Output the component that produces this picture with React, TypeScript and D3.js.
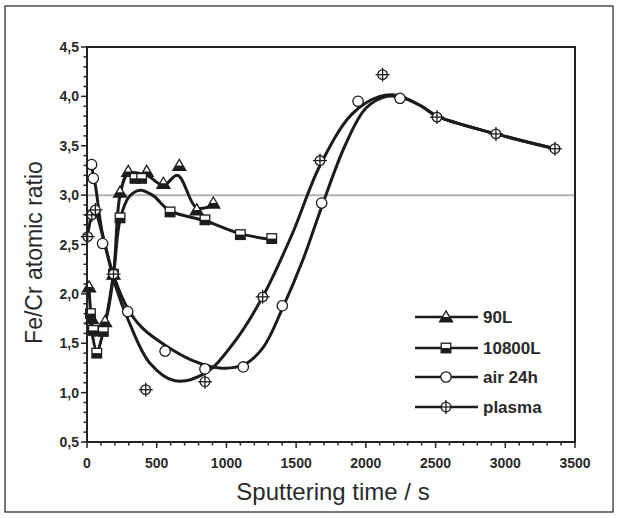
import React from "react";
import * as d3 from "d3";

// ---------- data ----------
const xTicks = [0, 500, 1000, 1500, 2000, 2500, 3000, 3500];
const yTicks = [0.5, 1.0, 1.5, 2.0, 2.5, 3.0, 3.5, 4.0, 4.5];
const yTickLabels = ["0,5", "1,0", "1,5", "2,0", "2,5", "3,0", "3,5", "4,0", "4,5"];

// 90L markers
const l90X = [15, 35, 129, 190, 237, 296, 428, 548, 662, 787, 906];
const l90Y = [2.07, 1.75, 1.72, 2.2, 3.03, 3.24, 3.24, 3.12, 3.3, 2.85, 2.92];
// 90L fitted line
const l90FitX = [15, 60, 129, 190, 237, 296, 428, 548, 650, 787, 906];
const l90FitY = [2.05, 1.58, 1.72, 2.2, 3.0, 3.22, 3.2, 3.1, 3.2, 2.87, 2.9];

// 10800L markers
const l10800X = [25, 45, 70, 117, 190, 237, 344, 392, 596, 846, 1100, 1325];
const l10800Y = [1.8, 1.63, 1.4, 1.62, 2.2, 2.77, 3.17, 3.17, 2.83, 2.75, 2.6, 2.56];
// 10800L fitted line
const l10800FitX = [20, 70, 117, 190, 237, 300, 380, 470, 596, 846, 1100, 1325];
const l10800FitY = [1.75, 1.42, 1.62, 2.2, 2.75, 2.98, 3.05, 3.0, 2.84, 2.74, 2.61, 2.55];

// air 24h markers
const airX = [33, 45, 112, 292, 560, 846, 1121, 1401, 1683, 1944, 2245];
const airY = [3.31, 3.17, 2.51, 1.82, 1.42, 1.24, 1.26, 1.88, 2.92, 3.95, 3.98];
// air 24h fitted line
const airFitX = [30, 60, 112, 200, 292, 400, 560, 750, 950, 1121, 1260, 1401, 1550, 1683, 1850, 2000, 2150, 2250, 2400, 2510, 2933, 3356];
const airFitY = [3.3, 3.1, 2.6, 2.15, 1.85, 1.65, 1.48, 1.33, 1.25, 1.28, 1.45, 1.85, 2.35, 2.88, 3.5, 3.88, 4.0, 3.99, 3.9, 3.8, 3.62, 3.47];

// plasma markers
const plasmaX = [5, 35, 60, 190, 421, 846, 1260, 1671, 2120, 2510, 2933, 3356];
const plasmaY = [2.58, 2.8, 2.85, 2.2, 1.03, 1.11, 1.97, 3.35, 4.22, 3.79, 3.62, 3.47];
// plasma fitted line
const plasmaFitX = [5, 50, 120, 200, 300, 450, 630, 850, 1050, 1260, 1470, 1671, 1900, 2100, 2230, 2400, 2510, 2933, 3356];
const plasmaFitY = [2.6, 2.85, 2.55, 2.1, 1.72, 1.3, 1.12, 1.2, 1.5, 1.97, 2.6, 3.3, 3.82, 4.0, 4.01, 3.9, 3.8, 3.62, 3.47];

const legendNames = ["90L", "10800L", "air 24h", "plasma"];

// ---------- layout ----------
const W = 619;
const H = 518;
const x = d3.scaleLinear().domain([0, 3500]).range([87, 575]);
const y = d3.scaleLinear().domain([0.5, 4.5]).range([442, 47]);

const zip = (xs: number[], ys: number[]) => xs.map((v, i) => [v, ys[i]] as [number, number]);

const line = d3
  .line<[number, number]>()
  .x((d) => x(d[0]))
  .y((d) => y(d[1]))
  .curve(d3.curveCatmullRom.alpha(0.5));

const INK = "#1c1c1c";

function Triangle({ cx, cy }: { cx: number; cy: number }) {
  const s = 6.5;
  const h = 11;
  const top = cy - h * 0.55;
  const bot = cy + h * 0.45;
  const mid = cy;
  const halfAtMid = s * ((mid - top) / (bot - top));
  return (
    <g>
      <path d={`M${cx},${top}L${cx + s},${bot}L${cx - s},${bot}Z`} fill="#fff" stroke={INK} strokeWidth={1.3} />
      <path d={`M${cx - halfAtMid},${mid}L${cx + halfAtMid},${mid}L${cx + s},${bot}L${cx - s},${bot}Z`} fill={INK} />
    </g>
  );
}

function Square({ cx, cy }: { cx: number; cy: number }) {
  const s = 4.8;
  return (
    <g>
      <rect x={cx - s} y={cy - s} width={2 * s} height={2 * s} fill="#fff" stroke={INK} strokeWidth={1.3} />
      <rect x={cx - s} y={cy} width={2 * s} height={s} fill={INK} />
    </g>
  );
}

function Circle({ cx, cy }: { cx: number; cy: number }) {
  return <circle cx={cx} cy={cy} r={5.2} fill="#fff" stroke={INK} strokeWidth={1.3} />;
}

function Plasma({ cx, cy }: { cx: number; cy: number }) {
  return (
    <g stroke={INK} strokeWidth={1.3}>
      <circle cx={cx} cy={cy} r={4.8} fill="#fff" />
      <line x1={cx - 7} x2={cx + 7} y1={cy} y2={cy} />
      <line x1={cx} x2={cx} y1={cy - 7} y2={cy + 7} />
    </g>
  );
}

const markerFor = [Triangle, Square, Circle, Plasma];

export default function App() {
  const series = [
    { fit: zip(l90FitX, l90FitY), pts: zip(l90X, l90Y) },
    { fit: zip(l10800FitX, l10800FitY), pts: zip(l10800X, l10800Y) },
    { fit: zip(airFitX, airFitY), pts: zip(airX, airY) },
    { fit: zip(plasmaFitX, plasmaFitY), pts: zip(plasmaX, plasmaY) },
  ];
  const xMinor = d3.range(0, 3501, 100);
  const yMinor = d3.range(0.5, 4.5001, 0.1);
  const legendY = [317, 348, 377, 407];
  const tickFont = "'Liberation Sans', Arial, sans-serif";

  return (
    <svg width={W} height={H} style={{ position: "absolute", left: 0, top: 0, background: "#fff" }}>
      <rect x={0} y={0} width={W} height={H} fill="#fff" />
      {/* outer frame */}
      <rect x={5} y={6} width={608} height={506} fill="none" stroke="#222" strokeWidth={1.2} />

      {/* reference line at 3.0 */}
      <line x1={x(0)} x2={x(3500)} y1={y(3)} y2={y(3)} stroke="#b4b4b4" strokeWidth={2} />

      {/* fitted lines */}
      {series.map((s, i) => (
        <path key={"l" + i} d={line(s.fit) || ""} fill="none" stroke={INK} strokeWidth={3} strokeLinejoin="round" />
      ))}

      {/* markers */}
      {series.map((s, i) => {
        const M = markerFor[i];
        return (
          <g key={"m" + i}>
            {s.pts.map((p, j) => (
              <M key={j} cx={x(p[0])} cy={y(p[1])} />
            ))}
          </g>
        );
      })}

      {/* axes frame */}
      <rect x={x(0)} y={y(4.5)} width={x(3500) - x(0)} height={y(0.5) - y(4.5)} fill="none" stroke="#222" strokeWidth={2} />

      {/* x ticks */}
      {xMinor.map((v) => (
        <line key={"xm" + v} x1={x(v)} x2={x(v)} y1={y(0.5)} y2={y(0.5) + (v % 500 === 0 ? 6 : 3.5)} stroke="#222" strokeWidth={1.5} />
      ))}
      {xTicks.map((v) => (
        <text key={"xt" + v} x={x(v)} y={468} textAnchor="middle" fontFamily={tickFont} fontWeight="bold" fontSize={14} fill="#2a2a2a">
          {v}
        </text>
      ))}

      {/* y ticks */}
      {yMinor.map((v, i) => (
        <line key={"ym" + i} x1={x(0) - (i % 5 === 0 ? 6 : 3.5)} x2={x(0)} y1={y(v)} y2={y(v)} stroke="#222" strokeWidth={1.5} />
      ))}
      {yTicks.map((v, i) => (
        <text key={"yt" + v} x={79} y={y(v) + 5} textAnchor="end" fontFamily={tickFont} fontWeight="bold" fontSize={14} fill="#2a2a2a">
          {yTickLabels[i]}
        </text>
      ))}

      {/* axis titles */}
      <text x={333} y={500} textAnchor="middle" fontFamily={tickFont} fontSize={24} fill="#2a2a2a">
        Sputtering time / s
      </text>
      <text transform={`translate(42,${(y(0.5) + y(4.5)) / 2 + 8}) rotate(-90)`} textAnchor="middle" fontFamily={tickFont} fontSize={23} fill="#2a2a2a">
        Fe/Cr atomic ratio
      </text>

      {/* legend */}
      {legendNames.map((n, i) => {
        const M = markerFor[i];
        const ly = legendY[i];
        return (
          <g key={"lg" + i}>
            <line x1={415} x2={478} y1={ly} y2={ly} stroke={INK} strokeWidth={2.5} />
            <M cx={446} cy={ly} />
            <text x={483} y={ly + 6} fontFamily={tickFont} fontWeight="bold" fontSize={17} fill="#2a2a2a">
              {n}
            </text>
          </g>
        );
      })}
    </svg>
  );
}
